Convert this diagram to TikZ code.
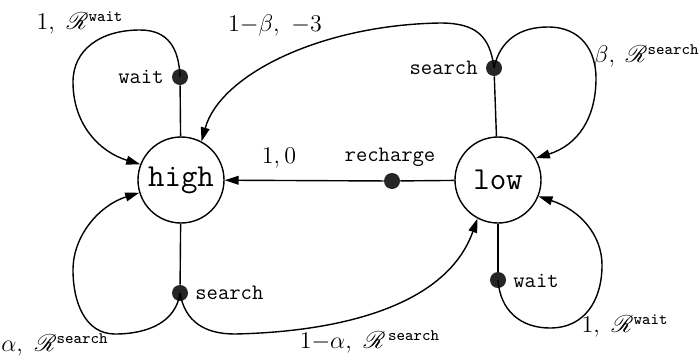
\documentclass[tikz,border=0pt]{standalone}
\usepackage{amsmath}
\usepackage{mathrsfs}
\usetikzlibrary{arrows.meta}
\tikzset{
  state/.style={draw, circle, line width=0.7pt, minimum size=43pt, inner sep=0pt, font=\fontsize{16}{18}\selectfont\ttfamily},
  actdot/.style={circle, fill=black!85, minimum size=8pt, inner sep=0pt},
  actlbl/.style={font=\fontsize{11}{13}\selectfont\ttfamily, inner sep=1pt},
  prob/.style={font=\fontsize{12}{14}\selectfont, inner sep=0pt},
  edge/.style={line width=0.7pt},
  arr/.style={edge, -{Triangle[length=7pt,width=4.4pt]}},
}
\newcommand{\Rsup}[1]{\mathscr{R}^{\text{\ttfamily\fontsize{8}{9}\selectfont #1}}}
\begin{document}
\begin{tikzpicture}[x=0.5pt,y=-0.5pt]
\useasboundingbox (0,0) rectangle (700,359);
\node[state] (hi) at (181,180) {high};
\node[state] (lo) at (498,180) {low};
\node[actdot] (hw) at (180,77) {};
\node[actdot] (hs) at (180,293) {};
\node[actdot] (ls) at (494,68) {};
\node[actdot] (lw) at (498,280) {};
\node[actdot] (rc) at (392,181) {};
% action labels
\node[actlbl, anchor=east] (hwl) at (166,77) {wait};
\node[actlbl, anchor=west] (hsl) at (193,293) {search};
\node[actlbl, anchor=east] (lsl) at (480,68) {search};
\node[actlbl, anchor=west] (lwl) at (511,281) {wait};
\node[actlbl] (rcl) at (390,157) {recharge};
% stems
\draw[edge] (hi) -- (hw);
\draw[edge] (hi) -- (hs);
\draw[edge] (lo) -- (ls);
\draw[edge] (lo) -- (lw);
\draw[edge] (lo) -- (rc);
\draw[arr] (rc) -- (hi);
% high wait loop
\draw[arr] (hw.center) .. controls (179,48) and (168,30) .. (140,30)
  .. controls (100,30) and (73,50) .. (73,82)
  .. controls (73,125) and (100,152) .. (hi.159);
% 1-beta
\draw[arr] (ls.center) .. controls (490,35) and (475,23) .. (440,23)
  .. controls (320,25) and (220,75) .. (hi.62);
% beta loop
\draw[arr] (ls.center) .. controls (500,40) and (520,27) .. (548,27)
  .. controls (582,27) and (596,52) .. (596,78)
  .. controls (596,118) and (578,145) .. (lo.30);
% high search loop
\draw[arr] (hs.center) .. controls (176,322) and (148,334) .. (115,334)
  .. controls (85,334) and (73,302) .. (73,270)
  .. controls (73,235) and (100,205) .. (hi.197);
% 1-alpha
\draw[arr] (hs.center) .. controls (185,322) and (205,334) .. (235,334)
  .. controls (330,332) and (445,310) .. (lo.242);
% low wait loop
\draw[arr] (lw.center) .. controls (500,310) and (520,328) .. (550,328)
  .. controls (585,328) and (602,300) .. (602,265)
  .. controls (602,235) and (580,210) .. (lo.338);
% probability labels
\node[prob] (l1) at (80,23) {$1,\ \Rsup{wait}$};
\node[prob] (l2) at (275,25) {$1{-}\beta,\ {-3}$};
\node[prob] (l3) at (279,158) {$1, 0$};
\node[prob, anchor=east, font=\fontsize{11.5}{13}\selectfont] (l4) at (700,56) {$\beta,\;\Rsup{search}$};
\node[prob] (l5) at (55,345) {$\alpha,\ \Rsup{search}$};
\node[prob] (l6) at (370,342) {$1{-}\alpha,\ \Rsup{\,search}$};
\node[prob] (l7) at (625,326) {$1,\ \Rsup{wait}$};
\end{tikzpicture}
\end{document}
